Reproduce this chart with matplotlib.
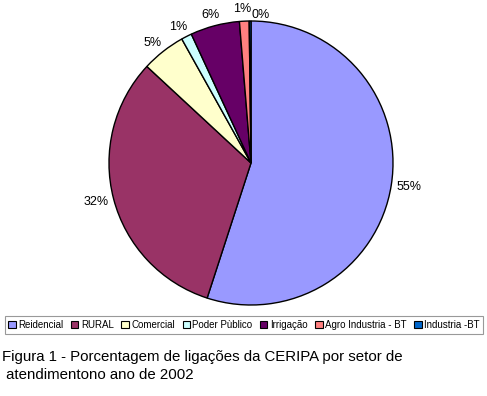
import numpy as np
import matplotlib.pyplot as plt
from matplotlib.patches import Patch

plt.rcParams['font.family'] = ['Liberation Sans', 'DejaVu Sans']

# Data
setores = ['Reidencial', 'RURAL', 'Comercial', 'Poder Pùblico', 'Irrigação',
           'Agro Industria - BT', 'Industria -BT']
valores = [55.0, 31.9, 5.0, 1.2, 5.6, 1.1, 0.2]
rotulos = ['55%', '32%', '5%', '1%', '6%', '1%', '0%']
cores = ['#9999FF', '#993366', '#FFFFCC', '#CCFFFF', '#660066', '#FF8080', '#0066CC']

# small manual nudges (points) for crowded labels
nudge = [(0, 0), (0, 0), (0, 0), (0, 0), (0, 0), (-1, 1), (8, -4)]

fig = plt.figure(figsize=(4.87, 3.96), dpi=100)
ax = fig.add_axes([109 / 487, 91 / 396, 284 / 487, 284 / 396])

wedges, _ = ax.pie(valores, colors=cores, startangle=90, counterclock=False,
                   wedgeprops=dict(edgecolor='black', linewidth=1.0))
ax.set_xlim(-1, 1)
ax.set_ylim(-1, 1)
ax.set_aspect('equal')
ax.axis('off')

# labels outside the pie, Excel style
for w, txt, (nx, ny) in zip(wedges, rotulos, nudge):
    ang = np.deg2rad((w.theta1 + w.theta2) / 2)
    c, s = np.cos(ang), np.sin(ang)
    dx = c * 4 + c * 9 + nx
    dy = s * 4 + s * 4 + ny
    ax.annotate(txt, xy=(c, s), xytext=(dx, dy), textcoords='offset points',
                ha='center', va='center', fontsize=9, annotation_clip=False)

handles = [Patch(facecolor=col, edgecolor='black', linewidth=0.8) for col in cores]
leg = fig.legend(handles, setores, loc='center', bbox_to_anchor=(244 / 487, 1 - 325 / 396),
                 ncol=7, fontsize=7, frameon=True, fancybox=False,
                 handlelength=0.75, handleheight=0.75, handletextpad=0.25,
                 columnspacing=0.8, borderpad=0.4, borderaxespad=0)
leg.get_frame().set_edgecolor('#808080')
leg.get_frame().set_linewidth(0.8)

fig.text(2 / 487, 1 - 350 / 396,
         'Figura 1 - Porcentagem de ligações da CERIPA por setor de\n atendimentono ano de 2002',
         ha='left', va='top', fontsize=10.8, linespacing=1.35)

fig.savefig('out.png', dpi=100)
